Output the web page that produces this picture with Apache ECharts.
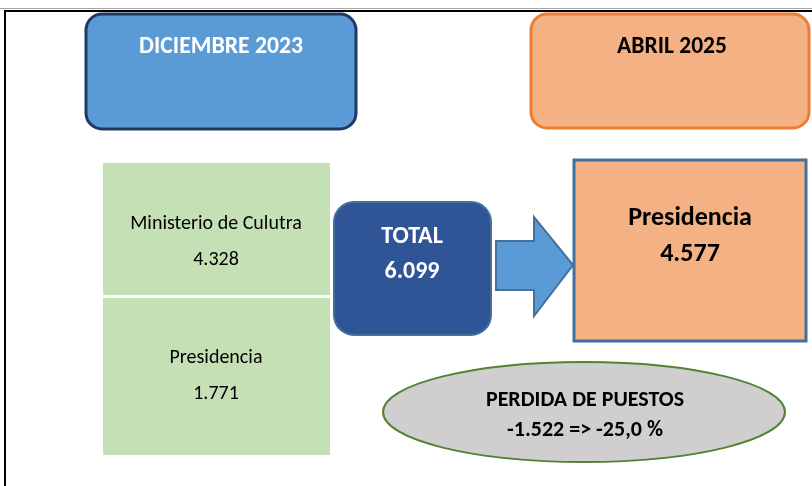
<!DOCTYPE html>
<html>
<head>
<meta charset="utf-8">
<script src="https://cdn.jsdelivr.net/npm/echarts@6/dist/echarts.min.js"></script>
<style>
  html, body { margin: 0; padding: 0; background: #fff; }
  #main { width: 812px; height: 486px; }
</style>
</head>
<body>
<div id="main"></div>
<script>
// datos
const periods = ['DICIEMBRE 2023', 'ABRIL 2025']
const decLabels = ['Ministerio de Culutra', 'Presidencia']
const decValues = [4328, 1771]
const aprLabels = ['Presidencia']
const aprValues = [4577]
const lossTitle = 'PERDIDA DE PUESTOS'

// formato es: 4.328 / -25,0
const fmtNum = (n) => {
  const s = Math.abs(n).toString().replace(/\B(?=(\d{3})+(?!\d))/g, '.')
  return (n < 0 ? '-' : '') + s
}
const total = decValues.reduce((a, b) => a + b, 0)
const loss = aprValues[0] - total
const pct = (loss / total * 100).toFixed(1).replace('.', ',')

const FONT = "Carlito, Lato, sans-serif"

const txt = (x, y, text, size, color, bold) => ({
  type: 'text',
  x: x, y: y,
  style: {
    text: text,
    fill: color,
    font: (bold ? 'bold ' : '') + size + 'px ' + FONT,
    textAlign: 'center',
    textVerticalAlign: 'middle'
  }
})

const chart = echarts.init(document.getElementById('main'), null, { renderer: 'canvas' })

const elements = [
  // marco
  { type: 'rect', shape: { x: 0, y: 8, width: 812, height: 1 }, style: { fill: '#a6a6a6' } },
  { type: 'rect', shape: { x: 4, y: 10, width: 808, height: 2 }, style: { fill: '#000' } },
  { type: 'rect', shape: { x: 4, y: 10, width: 2, height: 476 }, style: { fill: '#000' } },

  // cabeceras
  { type: 'rect', shape: { x: 86, y: 14, width: 270, height: 115, r: 16 },
    style: { fill: '#5b9bd5', stroke: '#203864', lineWidth: 3 } },
  txt(221, 47, periods[0], 23.7, '#fff', true),
  { type: 'rect', shape: { x: 531, y: 14, width: 278, height: 114, r: 16 },
    style: { fill: '#f4b183', stroke: '#ed7d31', lineWidth: 3 } },
  txt(672, 47, periods[1], 23.5, '#000', true),

  // diciembre: cajas verdes
  { type: 'rect', shape: { x: 103, y: 163, width: 227, height: 132 }, style: { fill: '#c5e0b4' } },
  { type: 'rect', shape: { x: 103, y: 298, width: 227, height: 157 }, style: { fill: '#c5e0b4' } },
  txt(216, 224, decLabels[0], 20, '#000', false),
  txt(216, 260, fmtNum(decValues[0]), 20, '#000', false),
  txt(216, 358, decLabels[1], 20, '#000', false),
  txt(216, 394, fmtNum(decValues[1]), 20, '#000', false),

  // total
  { type: 'rect', shape: { x: 334, y: 202, width: 157, height: 133, r: 20 },
    style: { fill: '#2f5597', stroke: '#41719c', lineWidth: 2 } },
  txt(412, 237, 'TOTAL', 24, '#fff', true),
  txt(412, 272, fmtNum(total), 24, '#fff', true),

  // flecha
  { type: 'polygon',
    shape: { points: [[496, 241], [534, 241], [534, 217], [573, 265], [534, 316], [534, 290], [496, 290]] },
    style: { fill: '#5b9bd5', stroke: '#41719c', lineWidth: 2 } },

  // abril
  { type: 'rect', shape: { x: 574, y: 160, width: 232, height: 181 },
    style: { fill: '#f4b183', stroke: '#41719c', lineWidth: 3 } },
  txt(690, 218, aprLabels[0], 26, '#000', true),
  txt(690, 254, fmtNum(aprValues[0]), 26, '#000', true),

  // perdida
  { type: 'ellipse', shape: { cx: 584, cy: 412, rx: 201, ry: 50 },
    style: { fill: '#d0cece', stroke: '#548235', lineWidth: 2 } },
  txt(585, 400, lossTitle, 22, '#000', true),
  txt(585, 430, fmtNum(loss) + ' => ' + pct + ' %', 22, '#000', true)
]

chart.setOption({
  backgroundColor: '#fff',
  animation: false,
  graphic: { elements: elements }
})
</script>
</body>
</html>
